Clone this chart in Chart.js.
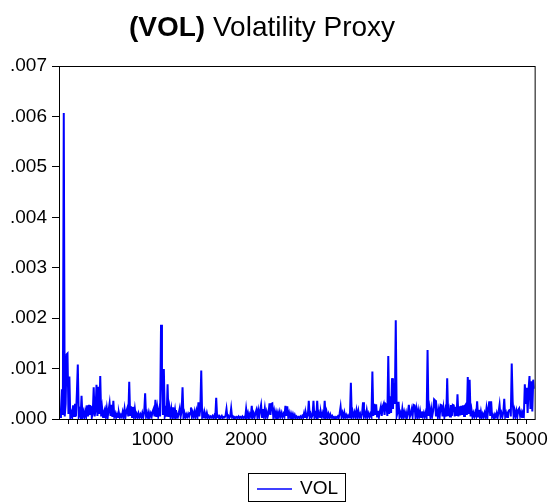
<!DOCTYPE html>
<html>
<head>
<meta charset="utf-8">
<script src="https://cdn.jsdelivr.net/npm/chart.js@4.4.0/dist/chart.umd.min.js"></script>
<style>
  html, body { margin: 0; padding: 0; background: #fff; }
  #wrap { width: 552px; height: 502px; }
</style>
</head>
<body>
<div id="wrap"><canvas id="volChart" width="552" height="502"></canvas></div>
<script>
// VOL sampled every 10th observation: obs 1, 11, 21, ...
const firstObs = 1;
const obsStep = 10;
const lastObs = 5086;

const vol = [
  .00012,.00004,.00018,.00059,.00008,.00607,.00005,.00030,.00128,.00130,
  .00010,.00084,.00004,.00012,.00003,.00027,.00006,.00030,.00005,.00051,
  .00108,.00006,.00015,.00004,.00046,.00005,.00014,.00003,.00016,.00006,
  .00027,.00005,.00028,.00008,.00026,.00003,.00012,.00063,.00005,.00018,
  .00068,.00006,.00064,.00010,.00085,.00005,.00022,.00004,.00014,.00020,
  .00005,.00021,.00004,.00018,.00031,.00006,.00028,.00004,.00036,.00005,
  .00011,.00003,.00010,.00004,.00012,.00003,.00008,.00004,.00014,.00005,
  .00020,.00004,.00016,.00022,.00005,.00074,.00006,.00025,.00004,.00024,
  .00005,.00020,.00004,.00010,.00003,.00011,.00004,.00009,.00003,.00012,
  .00004,.00013,.00051,.00005,.00012,.00003,.00013,.00004,.00011,.00005,
  .00015,.00020,.00005,.00038,.00004,.00022,.00006,.00018,.00005,.00187,
  .00099,.00008,.00099,.00006,.00016,.00005,.00069,.00004,.00022,.00006,
  .00020,.00004,.00023,.00005,.00018,.00003,.00010,.00004,.00012,.00021,
  .00005,.00015,.00063,.00004,.00012,.00003,.00009,.00004,.00010,.00005,
  .00012,.00023,.00004,.00013,.00005,.00015,.00004,.00016,.00006,.00033,
  .00005,.00020,.00096,.00004,.00012,.00003,.00011,.00004,.00012,.00003,
  .00006,.00002,.00005,.00003,.00006,.00002,.00007,.00003,.00042,.00004,
  .00006,.00002,.00005,.00003,.00006,.00002,.00004,.00003,.00007,.00020,
  .00003,.00006,.00002,.00005,.00021,.00003,.00005,.00002,.00004,.00002,
  .00004,.00002,.00005,.00002,.00004,.00002,.00005,.00002,.00004,.00002,
  .00020,.00004,.00012,.00003,.00010,.00005,.00026,.00004,.00011,.00003,
  .00012,.00018,.00004,.00017,.00005,.00018,.00028,.00004,.00020,.00006,
  .00021,.00004,.00014,.00005,.00012,.00031,.00008,.00030,.00031,.00005,
  .00016,.00004,.00014,.00005,.00013,.00004,.00014,.00005,.00012,.00004,
  .00010,.00005,.00026,.00006,.00025,.00004,.00012,.00003,.00011,.00004,
  .00010,.00003,.00008,.00002,.00005,.00002,.00004,.00002,.00005,.00002,
  .00006,.00003,.00012,.00004,.00011,.00003,.00008,.00036,.00004,.00010,
  .00003,.00008,.00036,.00004,.00010,.00003,.00036,.00005,.00012,.00004,
  .00013,.00004,.00012,.00005,.00036,.00004,.00014,.00003,.00010,.00003,
  .00009,.00003,.00006,.00002,.00004,.00002,.00004,.00002,.00005,.00002,
  .00011,.00024,.00004,.00012,.00004,.00013,.00003,.00008,.00003,.00007,
  .00003,.00008,.00072,.00004,.00014,.00005,.00013,.00004,.00017,.00005,
  .00016,.00004,.00010,.00003,.00011,.00033,.00005,.00012,.00004,.00017,
  .00005,.00011,.00004,.00010,.00005,.00094,.00006,.00030,.00008,.00029,
  .00005,.00016,.00004,.00015,.00024,.00006,.00025,.00030,.00008,.00030,
  .00028,.00006,.00125,.00010,.00045,.00012,.00081,.00020,.00071,.00030,
  .00196,.00006,.00013,.00034,.00004,.00012,.00005,.00020,.00004,.00014,
  .00005,.00013,.00003,.00012,.00028,.00004,.00010,.00019,.00005,.00028,
  .00027,.00006,.00020,.00004,.00017,.00005,.00016,.00004,.00015,.00005,
  .00012,.00004,.00013,.00005,.00137,.00006,.00021,.00004,.00020,.00006,
  .00016,.00039,.00037,.00005,.00019,.00004,.00018,.00006,.00028,.00027,
  .00005,.00022,.00004,.00017,.00005,.00081,.00006,.00018,.00005,.00028,
  .00006,.00028,.00027,.00005,.00024,.00006,.00049,.00005,.00025,.00007,
  .00026,.00008,.00027,.00006,.00026,.00029,.00008,.00083,.00010,.00078,
  .00005,.00018,.00004,.00012,.00005,.00013,.00006,.00035,.00005,.00018,
  .00004,.00015,.00003,.00010,.00004,.00012,.00005,.00021,.00004,.00021,
  .00035,.00006,.00035,.00004,.00008,.00003,.00009,.00004,.00012,.00004,
  .00014,.00028,.00005,.00012,.00004,.00013,.00040,.00005,.00012,.00004,
  .00013,.00017,.00018,.00005,.00110,.00035,.00006,.00017,.00005,.00016,
  .00005,.00018,.00021,.00006,.00013,.00004,.00012,.00008,.00069,.00030,
  .00062,.00012,.00058,.00085,.00020,.00075,.00015,.00078,.00060
];

const xTickValues = [1000, 2000, 3000, 4000, 5000];
const xMinorStep = 100;
const yTickValues = [0, .001, .002, .003, .004, .005, .006, .007];
const yTickLabels = ['.000', '.001', '.002', '.003', '.004', '.005', '.006', '.007'];

const seriesName = 'VOL';
const titleCode = '(VOL)';
const titleText = 'Volatility Proxy';
const lineColor = '#0000ff';

const FONT = "'Liberation Sans', Arial, sans-serif";
Chart.defaults.font.family = FONT;
Chart.defaults.font.size = 19;
Chart.defaults.color = '#000';

const points = vol.map((v, i) => ({ x: firstObs + i * obsStep, y: v }));

// box round the plot area
const framePlugin = {
  id: 'frame',
  afterDatasetsDraw(chart) {
    const { ctx, chartArea: a } = chart;
    ctx.save();
    ctx.strokeStyle = '#000';
    ctx.lineWidth = 1;
    ctx.strokeRect(a.left + 0.5, a.top + 0.5, a.right - a.left, a.bottom - a.top);
    ctx.restore();
  }
};

// "(VOL)" in bold followed by the plain title
const titlePlugin = {
  id: 'mixedTitle',
  afterDraw(chart) {
    const ctx = chart.ctx;
    ctx.save();
    ctx.fillStyle = '#000';
    ctx.textBaseline = 'alphabetic';
    ctx.font = 'bold 28px ' + FONT;
    const w1 = ctx.measureText(titleCode + ' ').width;
    ctx.font = '28px ' + FONT;
    const w2 = ctx.measureText(titleText).width;
    const x = 262 - (w1 + w2) / 2;
    ctx.font = 'bold 28px ' + FONT;
    ctx.fillText(titleCode, x, 36);
    ctx.font = '28px ' + FONT;
    ctx.fillText(titleText, x + w1, 36);
    ctx.restore();
  }
};

// boxed legend under the axis
const legendPlugin = {
  id: 'boxLegend',
  afterDraw(chart) {
    const ctx = chart.ctx;
    const ds = chart.data.datasets[0];
    ctx.save();
    ctx.strokeStyle = '#000';
    ctx.lineWidth = 1;
    ctx.strokeRect(248.5, 473.5, 97, 28);
    ctx.strokeStyle = lineColor;
    ctx.lineWidth = 1.5;
    ctx.beginPath();
    ctx.moveTo(257, 489);
    ctx.lineTo(292, 489);
    ctx.stroke();
    ctx.fillStyle = '#000';
    ctx.font = '19px ' + FONT;
    ctx.textBaseline = 'middle';
    ctx.fillText(ds.label, 300, 489);
    ctx.restore();
  }
};

new Chart(document.getElementById('volChart'), {
  type: 'line',
  data: {
    datasets: [{
      label: seriesName,
      data: points,
      borderColor: lineColor,
      borderWidth: 2,
      pointRadius: 0,
      tension: 0,
      fill: false
    }]
  },
  options: {
    responsive: false,
    animation: false,
    parsing: false,
    normalized: true,
    layout: { padding: { top: 66, right: 16, bottom: 0, left: 0 } },
    plugins: {
      legend: { display: false },
      title: { display: false },
      tooltip: { enabled: false }
    },
    scales: {
      x: {
        type: 'linear',
        min: 0,
        max: lastObs,
        afterFit(scale) { scale.height = 83; },
        afterBuildTicks(scale) {
          const t = [];
          for (let v = xMinorStep; v <= lastObs; v += xMinorStep) t.push({ value: v });
          scale.ticks = t;
        },
        ticks: {
          autoSkip: false,
          maxRotation: 0,
          padding: 4,
          callback: (v) => xTickValues.includes(v) ? String(v) : ''
        },
        grid: { drawOnChartArea: false, drawTicks: true, tickLength: 5, color: '#000' },
        border: { display: false }
      },
      y: {
        min: 0,
        max: .007,
        afterFit(scale) { scale.width = 59; },
        afterBuildTicks(scale) {
          scale.ticks = yTickValues.map(v => ({ value: v }));
        },
        ticks: {
          padding: 5,
          callback: (v) => {
            const i = yTickValues.findIndex(t => Math.abs(t - v) < 1e-9);
            return i >= 0 ? yTickLabels[i] : '';
          }
        },
        grid: { drawOnChartArea: false, drawTicks: true, tickLength: 7, color: '#000' },
        border: { display: false }
      }
    }
  },
  plugins: [framePlugin, titlePlugin, legendPlugin]
});
</script>
</body>
</html>
